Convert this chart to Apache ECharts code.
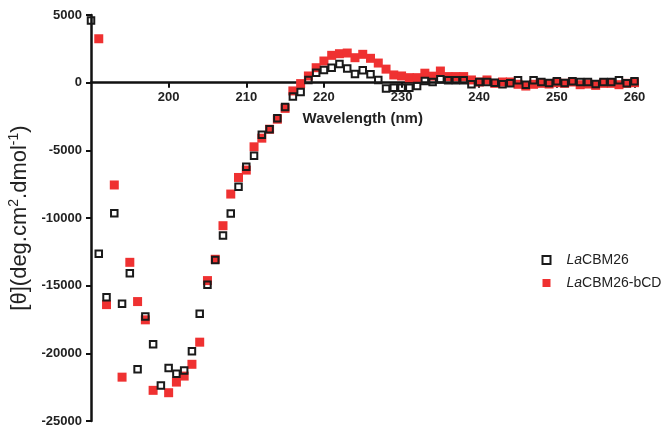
<!DOCTYPE html>
<html lang="en">
<head>
    <meta charset="UTF-8">
    <title>CD spectra</title>
    <script src="https://cdn.jsdelivr.net/npm/echarts@6/dist/echarts.min.js"></script>
    <style>
        html, body { margin: 0; padding: 0; background: #fff; }
        #chart { width: 663px; height: 429px; }
    </style>
</head>
<body>
<div id="chart"></div>
<script>
    // wavelength (nm)
    var wavelength = [190, 191, 192, 193, 194, 195, 196, 197, 198, 199,
        200, 201, 202, 203, 204, 205, 206, 207, 208, 209,
        210, 211, 212, 213, 214, 215, 216, 217, 218, 219,
        220, 221, 222, 223, 224, 225, 226, 227, 228, 229,
        230, 231, 232, 233, 234, 235, 236, 237, 238, 239,
        240, 241, 242, 243, 244, 245, 246, 247, 248, 249,
        250, 251, 252, 253, 254, 255, 256, 257, 258, 259, 260];

    // LaCBM26
    var cbm26 = [4600, -12650, -15850, -9650, -16340, -14085, -21180, -17270, -19320, -22370,
        -21080, -21505, -21260, -19850, -17080, -14940, -13100, -11300, -9660, -7690,
        -6215, -5405, -3855, -3440, -2625, -1790, -1030, -690, 190, 740,
        935, 1105, 1380, 1045, 640, 925, 620, 200, -440, -370,
        -370, -370, -245, 125, 50, 250, 180, 180, 180, -120,
        50, 50, 0, -120, -50, 180, -150, 180, 50, -30,
        100, -30, 100, 50, 50, -100, 50, 50, 180, -50, 100];

    // LaCBM26-bCD
    var cbm26bcd = [null, 3245, -16400, -7560, -21760, -13275, -16175, -17525, -22735, null,
        -22910, -22125, -21680, -20810, -19175, -14625, -13050, -10570, -8230, -7005,
        -6460, -4740, -4100, -3440, -2700, -1900, -610, -70, 495, 1105,
        1600, 2020, 2140, 2190, 1845, 2095, 1800, 1450, 1000, 570,
        495, 370, 370, 700, 480, 860, 450, 450, 450, 200,
        50, 200, -50, 50, 50, -120, -250, -120, -50, -100,
        0, -50, 50, -150, -100, -200, -50, -50, -150, -50, 0];

    var yMin = -25000, yMax = 5000, yStep = 5000;
    var xMin = 190, xMax = 260, xStep = 10;

    function pairs(vals) {
        var out = [];
        for (var i = 0; i < wavelength.length; i++) {
            if (vals[i] !== null) out.push([wavelength[i], vals[i]]);
        }
        return out;
    }

    var font = '"Liberation Sans", Arial, Helvetica, sans-serif';
    var W = 663, H = 429;
    var gLeft = 91, gRight = 28.5, gTop = 15, gBottom = 8;
    // the wavelength axis sits on y = 0: a second grid ends exactly there
    var zeroY = gTop + (H - gTop - gBottom) * (yMax / (yMax - yMin));

    var myChart = echarts.init(document.getElementById('chart'));
    var option = {
        animation: false,
        backgroundColor: '#fff',
        textStyle: { fontFamily: font },
        grid: [
            { left: gLeft, right: gRight, top: gTop, bottom: gBottom, outerBoundsMode: 'none', containLabel: false },
            { left: gLeft, right: gRight, top: gTop, height: zeroY - gTop, outerBoundsMode: 'none', containLabel: false }
        ],
        legend: {
            orient: 'vertical',
            left: 541.5,
            top: 253,
            padding: 0,
            itemGap: 9,
            itemWidth: 8,
            itemHeight: 8,
            textStyle: {
                fontFamily: font,
                fontSize: 14,
                color: '#222',
                padding: [0, 0, 0, 11],
                rich: {
                    i: { fontStyle: 'italic', fontSize: 14, fontFamily: font, color: '#222' },
                    n: { fontSize: 14, fontFamily: font, color: '#222' }
                }
            },
            formatter: function (name) {
                return '{i|La}{n|' + name.slice(2) + '}';
            },
            data: ['LaCBM26', 'LaCBM26-bCD']
        },
        xAxis: [{
            gridIndex: 0,
            type: 'value',
            min: xMin,
            max: xMax,
            interval: xStep,
            show: false
        }, {
            gridIndex: 1,
            type: 'value',
            position: 'bottom',
            min: xMin,
            max: xMax,
            interval: xStep,
            name: 'Wavelength (nm)',
            nameLocation: 'middle',
            nameGap: 29,
            nameTextStyle: { fontFamily: font, fontSize: 15, fontWeight: 'bold', color: '#222' },
            axisLine: { onZero: false, lineStyle: { color: '#111', width: 2.5 } },
            axisTick: { length: 5, lineStyle: { color: '#111', width: 2 } },
            axisLabel: { showMinLabel: false, fontFamily: font, fontSize: 13, fontWeight: 'bold', color: '#222', margin: 8 },
            splitLine: { show: false }
        }],
        yAxis: [{
            gridIndex: 0,
            type: 'value',
            min: yMin,
            max: yMax,
            interval: yStep,
            name: '{a|[θ](deg.cm}{s|2}{a|.dmol}{s|-1}{a|)}',
            nameLocation: 'middle',
            nameGap: 55,
            nameRotate: 90,
            nameTextStyle: {
                color: '#222',
                rich: {
                    a: { fontFamily: font, fontSize: 22, color: '#222' },
                    s: { fontFamily: font, fontSize: 14, color: '#222', verticalAlign: 'top', padding: [0, 0, 11, 0] }
                }
            },
            axisLine: { show: true, onZero: false, lineStyle: { color: '#111', width: 2.5 } },
            axisTick: { show: true, length: 5, lineStyle: { color: '#111', width: 2 } },
            axisLabel: {
                fontFamily: font, fontSize: 13, fontWeight: 'bold', color: '#222', margin: 9,
                formatter: function (v) { return String(v); }
            },
            splitLine: { show: false }
        }, {
            gridIndex: 1,
            type: 'value',
            min: 0,
            max: 1,
            show: false
        }],
        series: [{
            name: 'LaCBM26-bCD',
            type: 'scatter',
            xAxisIndex: 0,
            yAxisIndex: 0,
            symbol: 'rect',
            symbolSize: 9,
            z: 4,
            itemStyle: { color: '#ef3131', opacity: 1 },
            data: pairs(cbm26bcd)
        }, {
            name: 'LaCBM26',
            type: 'scatter',
            xAxisIndex: 0,
            yAxisIndex: 0,
            symbol: 'rect',
            symbolSize: 6.5,
            z: 5,
            itemStyle: { color: 'rgba(0,0,0,0)', borderColor: '#1a1a1a', borderWidth: 2, opacity: 1 },
            data: pairs(cbm26)
        }]
    };
    myChart.setOption(option);
</script>
</body>
</html>
